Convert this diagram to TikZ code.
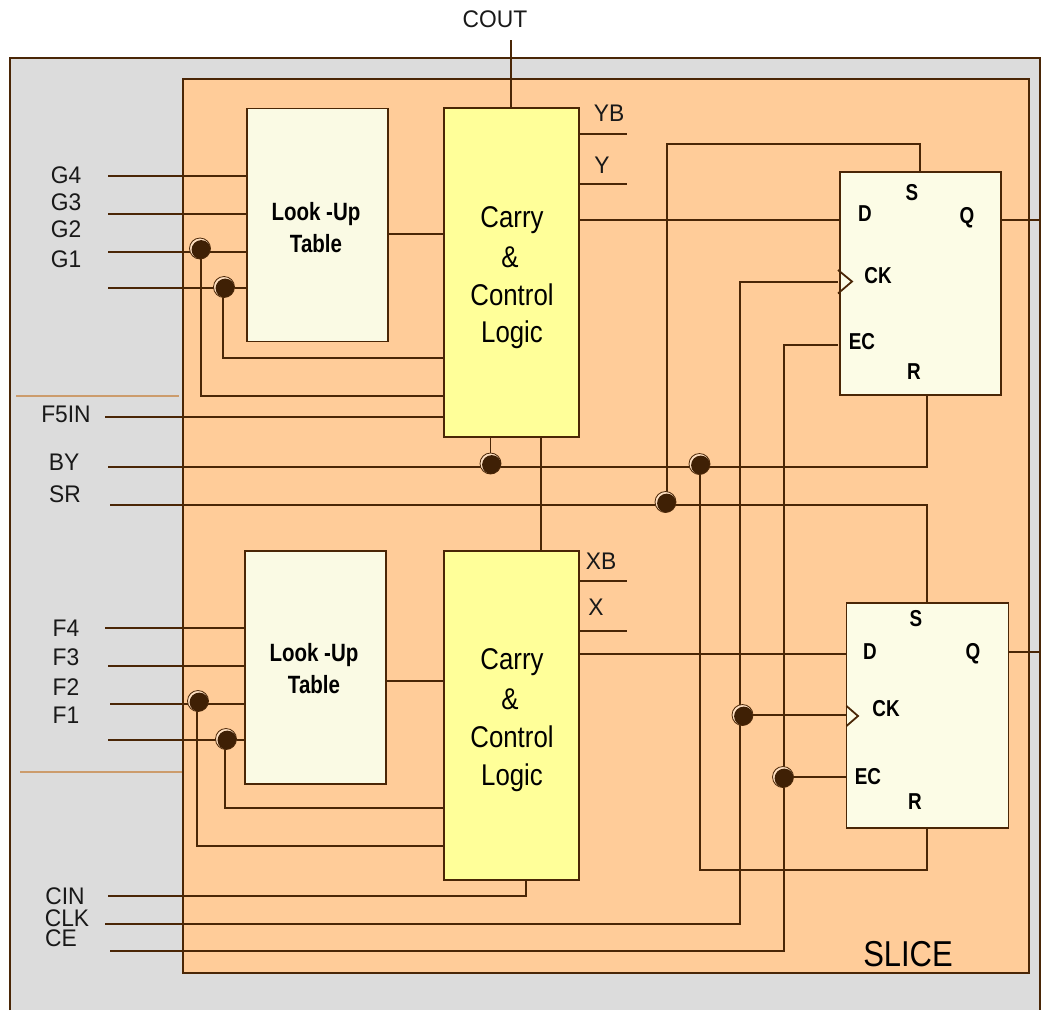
\documentclass[tikz,border=0pt]{standalone}
\usepackage{fontspec}
\setmainfont[FakeStretch=0.86,BoldFeatures={FakeStretch=0.82}]{Liberation Sans}
\newfontfamily\sigfont[FakeStretch=0.95]{Liberation Sans}
\usetikzlibrary{positioning,calc}
\pgfdeclarelayer{front}
\pgfsetlayers{main,front}
\definecolor{wire}{HTML}{4A2606}
\definecolor{sliceorange}{HTML}{FFCC99}
\definecolor{pagegray}{HTML}{DCDCDC}
\definecolor{lutcream}{HTML}{FAFAE4}
\definecolor{ffcream}{HTML}{FCFCE6}
\definecolor{logicyellow}{HTML}{FFFF99}
\definecolor{sepline}{HTML}{CC9C6C}
\tikzset{
  lutbox/.style={draw=wire,line width=1.8pt,fill=lutcream,minimum width=141pt,minimum height=233pt,inner sep=0pt,outer sep=0pt},
  logicbox/.style={draw=wire,line width=1.8pt,fill=logicyellow,minimum width=135pt,minimum height=329pt,inner sep=0pt,outer sep=0pt},
  ffbox/.style={draw=wire,line width=1.8pt,fill=ffcream,inner sep=0pt,outer sep=0pt},
  sig/.style={font=\sigfont\fontsize{24}{24}\selectfont,text=black!90,inner sep=0pt},
  bigtxt/.style={font=\fontsize{30}{30}\selectfont,inner sep=0pt},
  pin/.style={font=\fontsize{23}{23}\selectfont\bfseries,inner sep=0pt},
  lutpin/.style={font=\fontsize{25}{25}\selectfont\bfseries,inner sep=0pt},
  junction/.style={circle,draw=wire,line width=.8pt,fill=sliceorange!60!white,minimum size=21pt,inner sep=0pt,
    path picture={\fill[wire!85!black] ([xshift=1.2pt,yshift=-1.2pt]path picture bounding box.center) circle (9.6pt);}},
  ln/.style={draw=wire,line width=1.8pt}
}
\begin{document}
\begin{tikzpicture}[x=1pt,y=-1pt]
  \useasboundingbox (0,0) rectangle (1041,1010);

  % backgrounds
  \fill[pagegray] (10,58) rectangle (1040,1010);
  \draw[wire,line width=2pt] (10,1010) -- (10,58) -- (1040,58) -- (1040,1010);
  \node [draw=wire,line width=2pt,fill=sliceorange,minimum width=846pt,minimum height=894pt,inner sep=0pt] (slice) at (606,526) {};
  \node [anchor=center,font=\fontsize{36}{36}\selectfont,inner sep=0pt] (slicetxt) at (908,954) {SLICE};

  % blocks
  \node [lutbox] (lut1) at (317.5,225) {};
  \node [lutbox] (lut2) at (315.5,667.5) {};
  \node [logicbox] (logic1) at (511.5,272.5) {};
  \node [logicbox] (logic2) at (511.5,715.5) {};
  \node [ffbox,minimum width=161pt,minimum height=223pt] (ff1) at (920.5,283.5) {};
  \node [ffbox,minimum width=162pt,minimum height=225pt] (ff2) at (927.5,715.5) {};

  \node [lutpin] (lookA) at (316,214) {Look -Up};
  \node [lutpin] (tableA) at (316,244) {Table};
  \node [lutpin] (lookB) at (314,655) {Look -Up};
  \node [lutpin] (tableB) at (314,685) {Table};

  \node [bigtxt] (carryA) at (512,220) {Carry};
  \node [bigtxt] (ampA) at (510,257) {\&};
  \node [bigtxt] (ctrlA) at (512,295) {Control};
  \node [bigtxt] (logA) at (512,335) {Logic};
  \node [bigtxt] (carryB) at (512,662) {Carry};
  \node [bigtxt] (ampB) at (510,699) {\&};
  \node [bigtxt] (ctrlB) at (512,737) {Control};
  \node [bigtxt] (logB) at (512,778) {Logic};

  \node [pin] (dA) at (865,214) {D};
  \node [pin] (sA) at (912,193) {S};
  \node [pin] (qA) at (967,218) {Q};
  \node [pin] (ckA) at (878,276) {CK};
  \node [pin] (ecA) at (862,342) {EC};
  \node [pin] (rA) at (914,372) {R};
  \node [pin] (dB) at (870,652) {D};
  \node [pin] (sB) at (916,619) {S};
  \node [pin] (qB) at (973,654) {Q};
  \node [pin] (ckB) at (886,709) {CK};
  \node [pin] (ecB) at (868,777) {EC};
  \node [pin] (rB) at (915,802) {R};

  % labels
  \node [sig] (coutl) at (495,19) {COUT};
  \node [sig] (ybl) at (609,113) {YB};
  \node [sig] (yl) at (602,165) {Y};
  \node [sig] (xbl) at (601,561) {XB};
  \node [sig] (xl) at (596,607) {X};
  \node [sig] (g4l) at (66,175) {G4};
  \node [sig] (g3l) at (66,202) {G3};
  \node [sig] (g2l) at (66,229) {G2};
  \node [sig] (g1l) at (66,259) {G1};
  \node [sig] (f5l) at (66,414) {F5IN};
  \node [sig] (byl) at (64,462) {BY};
  \node [sig] (srl) at (65,494) {SR};
  \node [sig] (f4l) at (66,628) {F4};
  \node [sig] (f3l) at (66,657) {F3};
  \node [sig] (f2l) at (66,687) {F2};
  \node [sig] (f1l) at (66,715) {F1};
  \node [sig] (cinl) at (65,896) {CIN};
  \node [sig] (clkl) at (67,918) {CLK};
  \node [sig] (cel) at (61,938) {CE};

  % free ends
  \coordinate (cout) at (511,40);
  \coordinate (yb) at (627,134);
  \coordinate (y) at (627,184);
  \coordinate (xb) at (627,581);
  \coordinate (x) at (627,631);
  \coordinate (g4) at (108,176);
  \coordinate (g3) at (108,214);
  \coordinate (g2) at (108,252);
  \coordinate (g1) at (108,288);
  \coordinate (f5in) at (105,417);
  \coordinate (by) at (108,467);
  \coordinate (sr) at (110,505);
  \coordinate (f4) at (105,628);
  \coordinate (f3) at (108,666);
  \coordinate (f2) at (110,704);
  \coordinate (f1) at (108,740);
  \coordinate (cin) at (108,896);
  \coordinate (clk) at (105,924);
  \coordinate (ce) at (110,951);
  \coordinate (outA) at (1041,220);
  \coordinate (outB) at (1041,652);
  \coordinate (ckpinA) at (838,282);
  \coordinate (ecpinA) at (838,345);

  % separators
  \draw[sepline,line width=1.8pt] (16,396) -- (179,396);
  \draw[sepline,line width=1.8pt] (20,772) -- (slice.west |- 0,772);

  % junctions
  \begin{pgfonlayer}{front}
    \node [junction] (jg2) at (200,248.5) {};
    \node [junction] (jg1) at (224,287) {};
    \node [junction] (jf2) at (198,701) {};
    \node [junction] (jf1) at (226,739) {};
    \node [junction] (jby) at (490.5,463.5) {};
    \node [junction] (jbyr) at (699.5,464) {};
    \node [junction] (jsr) at (665.5,502) {};
    \node [junction] (jclk) at (742.5,715) {};
    \node [junction] (jce) at (783,777) {};
  \end{pgfonlayer}

  % wires
  \draw[ln] (cout) -- (cout |- logic1.north);
  \draw[ln] (yb -| logic1.east) -- (yb);
  \draw[ln] (y -| logic1.east) -- (y);
  \draw[ln] (xb -| logic2.east) -- (xb);
  \draw[ln] (x -| logic2.east) -- (x);
  \draw[ln] (g4) -- (g4 -| lut1.west);
  \draw[ln] (g3) -- (g3 -| lut1.west);
  \draw[ln] (g2) -- (g2 -| lut1.west);
  \draw[ln] (g1) -- (g1 -| lut1.west);
  \draw[ln] (jg2.center) ++(1,0) |- (logic1.west |- 0,396);
  \draw[ln] (jg1.center) ++(-1,0) |- (logic1.west |- 0,358);
  \draw[ln] (lut1.east |- 0,234) -- (logic1.west |- 0,234);
  \draw[ln] (f5in) -- (f5in -| logic1.west);
  \draw[ln] (by) -- (927,467) -- (ff1.south -| 927,0);
  \draw[ln] (sr) -- (927,505) -- (ff2.north -| 927,0);
  \draw[ln] (logic1.south -| jby) -- (jby);
  \draw[ln] (jsr.center) ++(1.5,0) -- (667,144) -- (920,144) -- (ff1.north -| 920,0);
  \draw[ln] (jbyr.center) ++(.5,0) -- (700,870) -- (927,870) -- (ff2.south -| 927,0);
  \draw[ln] (logic1.south -| 541,0) -- (logic2.north -| 541,0);
  \draw[ln] (logic1.east |- 0,220) -- (ff1.west |- 0,220);
  \draw[ln] (ff1.east |- outA) -- (outA);
  \draw[ln] (logic2.east |- 0,654) -- (ff2.west |- 0,654);
  \draw[ln] (ff2.east |- outB) -- (outB);
  \draw[ln] (f4) -- (f4 -| lut2.west);
  \draw[ln] (f3) -- (f3 -| lut2.west);
  \draw[ln] (f2) -- (f2 -| lut2.west);
  \draw[ln] (f1) -- (f1 -| lut2.west);
  \draw[ln] (jf2.center) ++(-1,0) |- (logic2.west |- 0,846);
  \draw[ln] (jf1.center) ++(-1,0) |- (logic2.west |- 0,808);
  \draw[ln] (lut2.east |- 0,681) -- (logic2.west |- 0,681);
  \draw[ln] (cin) -- (526,896) -- (logic2.south -| 526,0);
  \draw[ln] (clk) -- (740,924) -- (740,282) -- (ckpinA);
  \draw[ln] (jclk) -- (ff2.west |- jclk);
  \draw[ln] (ce) -- (784,951) -- (784,345) -- (ecpinA);
  \draw[ln] (jce) -- (ff2.west |- jce);
  % clock marks
  \draw[ln] (838,270) -- (852,281.5) -- (838,293.5);
  \draw[ln] (ff2.west |- 0,706) -- (858,716) -- (ff2.west |- 0,726);
\end{tikzpicture}
\end{document}
